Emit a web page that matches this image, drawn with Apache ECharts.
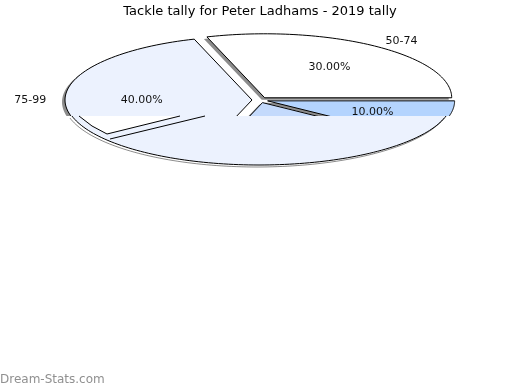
<!DOCTYPE html>
<html><head><meta charset="utf-8">
<script src="https://cdn.jsdelivr.net/npm/echarts@6/dist/echarts.min.js"></script>
<style>html,body{margin:0;padding:0;background:#fff}#c{width:520px;height:390px}</style>
</head><body><div id="c"></div>
<script>
// ---- data ----
const categories = ['50-74', '75-99', '25-49', '100-124'];
const values = [30, 40, 20, 10];
const sliceColors = ['#ffffff', '#ecf2fe', '#c4dafc', '#b4d4fe'];
const showLabel = [true, true, false, false];
const titleText = 'Tackle tally for Peter Ladhams - 2019 tally';
const watermark = 'Dream-Stats.com';

// ---- layout ----
const CX = 260, CY = 100, RX = 187, RY = 64, EXPLODE = 8;
const FONT = '11px "DejaVu Sans", sans-serif';
const total = values.reduce((a, b) => a + b, 0);
const cum = [0];
values.forEach(v => cum.push(cum[cum.length - 1] + v));

function renderItem(params, api) {
  const i = params.dataIndex;
  const v = api.value(0);
  const start = cum[i] / total * Math.PI * 2;
  const end = start + v / total * Math.PI * 2;
  const mid = (start + end) / 2;
  const ax = CX + EXPLODE * Math.cos(mid);
  const ay = CY - EXPLODE * (RY / RX) * Math.sin(mid);
  const pts = [[ax, ay]];
  const N = 80;
  for (let k = 0; k <= N; k++) {
    const a = start + (end - start) * k / N;
    pts.push([ax + RX * Math.cos(a), ay - RY * Math.sin(a)]);
  }
  const children = [{
    type: 'polygon',
    shape: { points: pts },
    style: {
      fill: sliceColors[i],
      shadowColor: 'rgba(0,0,0,0.45)', shadowBlur: 0, shadowOffsetX: -3, shadowOffsetY: 2
    }
  }, {
    type: 'polygon', z2: 5,
    shape: { points: pts },
    style: { fill: null, stroke: '#000', lineWidth: 1 }
  }];
  const pct = (v / total * 100).toFixed(2) + '%';
  children.push({
    type: 'text', z2: 50,
    x: ax + 0.59 * RX * Math.cos(mid), y: ay - 0.59 * RY * Math.sin(mid),
    style: { text: pct, font: FONT, fill: '#111', textAlign: 'center', textVerticalAlign: 'middle' }
  });
  if (showLabel[i]) {
    const right = Math.cos(mid) >= 0;
    children.push({
      type: 'text', z2: 50,
      x: ax + 1.1 * RX * Math.cos(mid), y: ay - 1.1 * RY * Math.sin(mid),
      style: { text: categories[i], font: FONT, fill: '#111', textAlign: right ? 'left' : 'right', textVerticalAlign: 'middle' }
    });
  }
  return { type: 'group', children };
}

// lower artefact region (the reference's rendering glitch below y=116)
const CUT = 116, LCX = 259, LCY = 100, LRX = 193, LRY = 65;
const phi = Math.asin((CUT - LCY) / LRY);
const lowArc = [];
for (let k = 0; k <= 100; k++) {
  const a = -phi - (Math.PI - 2 * phi) * k / 100;
  lowArc.push([LCX + LRX * Math.cos(a), LCY - LRY * Math.sin(a)]);
}

const chart = echarts.init(document.getElementById('c'), null, { renderer: 'canvas' });
chart.setOption({
  animation: false,
  backgroundColor: '#fff',
  title: {
    text: titleText, left: 'center', top: 0,
    textStyle: { fontFamily: 'DejaVu Sans', fontSize: 13, fontWeight: 'normal', color: '#000' }
  },
  series: [{
    type: 'custom', coordinateSystem: 'none', renderItem,
    data: values.map((v, i) => ({ name: categories[i], value: [v, i] }))
  }],
  graphic: [
    { type: 'rect', z: 10, shape: { x: 40, y: CUT, width: 450, height: 80 }, style: { fill: '#fff' } },
    { type: 'polygon', z: 11, shape: { points: lowArc }, style: { fill: '#ecf2fe' } },
    { type: 'polyline', z: 12, shape: { points: lowArc }, style: { stroke: '#000', lineWidth: 1, fill: null,
      shadowColor: 'rgba(0,0,0,0.45)', shadowBlur: 0, shadowOffsetX: -2, shadowOffsetY: 2 } },
    { type: 'polygon', z: 12, shape: { points: [[79, 116], [92, 126], [107, 134], [180, 116]] }, style: { fill: '#fff' } },
    { type: 'polyline', z: 13, shape: { points: [[79, 116], [92, 126], [107, 134], [180, 116]] }, style: { stroke: '#000', lineWidth: 1, fill: null } },
    { type: 'line', z: 13, shape: { x1: 205, y1: 116, x2: 110, y2: 139 }, style: { stroke: '#000', lineWidth: 1 } },
    { type: 'text', z: 20, left: 0, top: 374, style: { text: watermark, font: '12px "DejaVu Sans", sans-serif', fill: '#909090' } }
  ]
});
</script></body></html>
